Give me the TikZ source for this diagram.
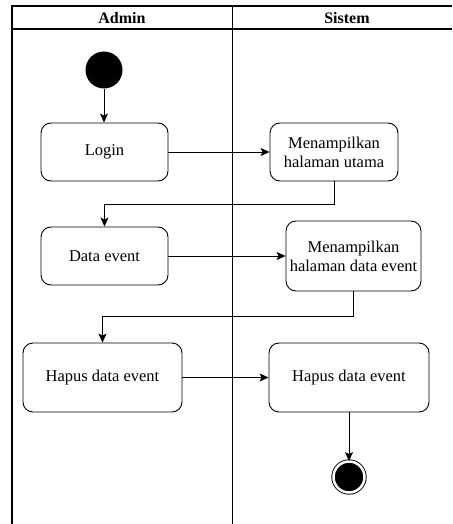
\documentclass[tikz,border=0pt]{standalone}
\usepackage{fontspec}
\setmainfont{Liberation Serif}
\usetikzlibrary{arrows.meta}
\tikzset{
  act/.style={draw,line width=0.9pt,rounded corners=10pt,align=center,font=\fontsize{16.5}{19}\selectfont},
  arr/.style={line width=0.9pt,-{Stealth[length=9pt,width=8pt,inset=2pt]}}
}
\begin{document}
\begin{tikzpicture}[x=1pt,y=-1pt]
        \useasboundingbox (0,0) rectangle (452,524);
        % swimlanes
        \draw[line width=1.6pt] (452,6) -- (12,6) -- (12,524);
        \draw[line width=1.3pt] (12,29) -- (452,29);
        \draw[line width=0.9pt] (232,6) -- (232,524);
        \node[font=\bfseries\fontsize{16}{19}\selectfont](admin)at(122,18){Admin};
        \node[font=\bfseries\fontsize{16}{19}\selectfont](sistem)at(347,18){Sistem};

        \node[circle,fill=black,minimum size=37pt,inner sep=0pt](start)at(104,70){};
        \node[act,minimum width=127pt,minimum height=58pt](login)at(104.5,152){Login};
        \node[act,minimum width=128pt,minimum height=58pt](utama)at(334,152){Menampilkan\\halaman utama};
        \node[act,minimum width=127pt,minimum height=58pt](data)at(104.5,256){Data event};
        \node[act,minimum width=135pt,minimum height=70pt](hdata)at(353.5,256){Menampilkan\\halaman data event};
        \node[act,minimum width=159pt,minimum height=69pt](hapus)at(102.5,377.5){Hapus data event};
        \node[act,minimum width=160pt,minimum height=69pt](hapusdb)at(349,377.5){Hapus data event};
        \node[circle,fill=black,draw,double=white,double distance=2.5pt,line width=0.9pt,minimum size=31pt,inner sep=0pt](end)at(349,477){};

        \draw[arr](start)--(start|-login.north);
        \draw[arr](login)--(utama);
        \draw[arr](utama.south)--++(0,23)-|(data.north);
        \draw[arr](data)--(hdata);
        \draw[arr](hdata.south)--++(0,25)-|(hapus.north);
        \draw[arr](hapus)--(hapusdb);
        \draw[arr](hapusdb)--(end);
    \end{tikzpicture}
\end{document}
